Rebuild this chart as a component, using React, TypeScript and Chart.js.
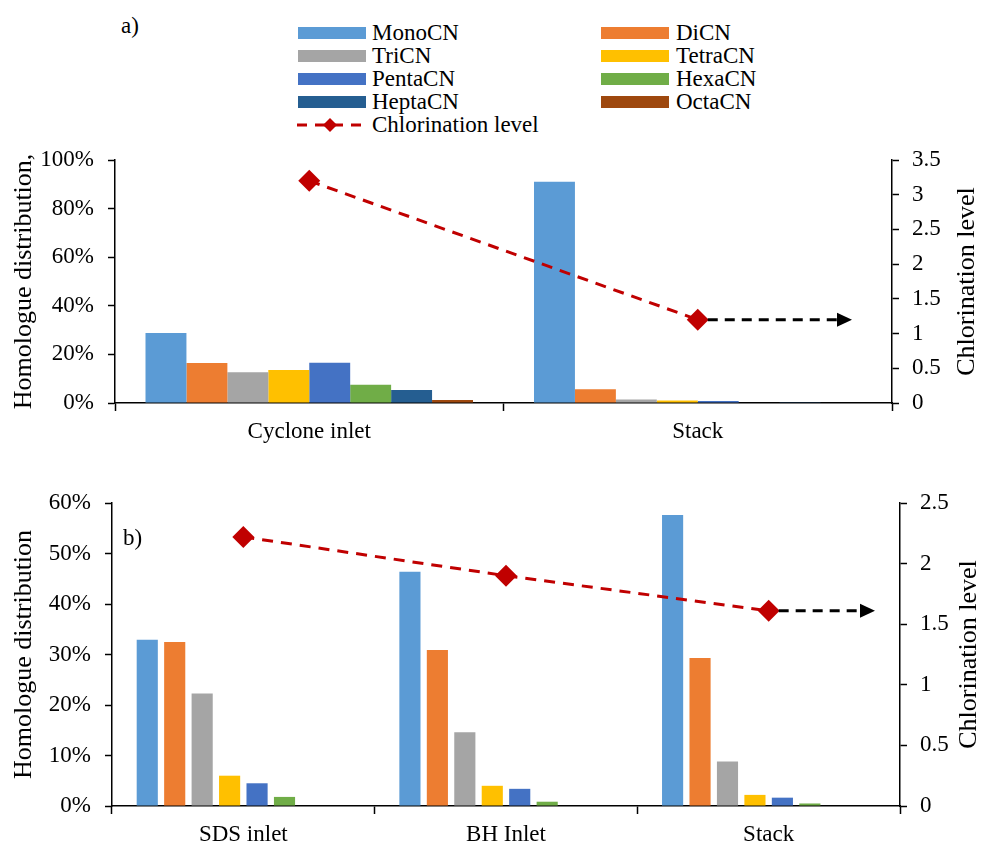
import React, { useEffect, useRef } from "react";
import { Chart, registerables } from "chart.js";
Chart.register(...registerables);

const FONT = '"Liberation Serif"';

const SERIES = ["MonoCN", "DiCN", "TriCN", "TetraCN", "PentaCN", "HexaCN", "HeptaCN", "OctaCN"];
const COLORS = ["#5B9BD5", "#ED7D31", "#A5A5A5", "#FFC000", "#4472C4", "#70AD47", "#255E91", "#9E480E"];
const LINE_LABEL = "Chlorination level";
const LINE_COLOR = "#C00000";

// Panel a)
const catsA = ["Cyclone inlet", "Stack"];
const monoA = [0.288, 0.91];
const diA = [0.165, 0.057];
const triA = [0.127, 0.014];
const tetraA = [0.136, 0.01];
const pentaA = [0.166, 0.008];
const hexaA = [0.075, 0.002];
const heptaA = [0.053, 0.001];
const octaA = [0.012, 0];
const chlA = [3.2, 1.2];

// Panel b)
const catsB = ["SDS inlet", "BH Inlet", "Stack"];
const monoB = [0.329, 0.464, 0.576];
const diB = [0.325, 0.309, 0.293];
const triB = [0.223, 0.146, 0.088];
const tetraB = [0.06, 0.04, 0.022];
const pentaB = [0.045, 0.034, 0.0165];
const hexaB = [0.018, 0.0085, 0.005];
const heptaB = [0, 0, 0];
const octaB = [0, 0, 0];
const chlB = [2.22, 1.9, 1.61];

type PanelOpts = {
  cats: string[];
  bars: number[][];
  chl: number[];
  yMax: number;
  yStep: number;
  y1Max: number;
  leftTitle: string;
  catPct: number;
  barPct: number;
  leftW: number;
  rightW: number;
  xH: number;
  padTop: number;
  arrowGap: number;
  rightTitleOff: number;
};

function makeConfig(o: PanelOpts): any {
  const datasets: any[] = o.bars.map((d, i) => ({
    type: "bar",
    label: SERIES[i],
    data: d,
    backgroundColor: COLORS[i],
    borderWidth: 0,
    yAxisID: "y",
    order: 2,
    categoryPercentage: o.catPct,
    barPercentage: o.barPct,
  }));
  datasets.push({
    type: "line",
    label: LINE_LABEL,
    data: o.chl,
    borderColor: LINE_COLOR,
    backgroundColor: LINE_COLOR,
    borderWidth: 3,
    borderDash: [11, 8],
    pointStyle: "rectRot",
    pointRadius: 11,
    pointBorderWidth: 0,
    pointBackgroundColor: LINE_COLOR,
    yAxisID: "y1",
    order: 0,
    fill: false,
    tension: 0,
  });
  const lineIndex = datasets.length - 1;

  const extras = {
    id: "extras",
    afterDatasetsDraw(chart: any) {
      const ctx = chart.ctx;
      const meta = chart.getDatasetMeta(lineIndex);
      const pt = meta.data[meta.data.length - 1];
      const x0 = pt.x;
      const y = pt.y;
      const x1 = chart.chartArea.right - o.arrowGap;
      ctx.save();
      ctx.strokeStyle = "#000";
      ctx.fillStyle = "#000";
      ctx.lineWidth = 3;
      ctx.setLineDash([10, 7]);
      ctx.beginPath();
      ctx.moveTo(x0 + 10, y);
      ctx.lineTo(x1 - 15, y);
      ctx.stroke();
      ctx.setLineDash([]);
      ctx.beginPath();
      ctx.moveTo(x1, y);
      ctx.lineTo(x1 - 15, y - 7);
      ctx.lineTo(x1 - 15, y + 7);
      ctx.closePath();
      ctx.fill();
      ctx.restore();
    },
    afterDraw(chart: any) {
      const ctx = chart.ctx;
      const a = chart.chartArea;
      ctx.save();
      ctx.translate(chart.width - o.rightTitleOff, (a.top + a.bottom) / 2);
      ctx.rotate(-Math.PI / 2);
      ctx.font = `26px ${FONT}`;
      ctx.fillStyle = "#000";
      ctx.textAlign = "center";
      ctx.textBaseline = "middle";
      ctx.fillText(LINE_LABEL, 0, 0);
      ctx.restore();
    },
  };

  const tickFont = { family: FONT, size: 23 };
  return {
    type: "bar",
    data: { labels: o.cats, datasets },
    plugins: [extras],
    options: {
      responsive: false,
      animation: false,
      devicePixelRatio: 1,
      layout: { padding: { top: o.padTop, left: 0, right: 0, bottom: 0 } },
      plugins: { legend: { display: false }, tooltip: { enabled: false } },
      scales: {
        x: {
          type: "category",
          offset: true,
          grid: {
            display: true,
            offset: true,
            drawOnChartArea: false,
            drawTicks: true,
            tickLength: 8,
            tickWidth: 1.5,
            tickColor: "#000",
          },
          border: { display: true, color: "#000", width: 1.5 },
          ticks: { font: tickFont, color: "#000", padding: 7, maxRotation: 0 },
          afterFit: (s: any) => {
            s.height = o.xH;
          },
        },
        y: {
          position: "left",
          min: 0,
          max: o.yMax,
          ticks: {
            stepSize: o.yStep,
            font: tickFont,
            color: "#000",
            padding: 14,
            callback: (v: any) => Math.round(Number(v) * 100) + "%",
          },
          grid: {
            drawOnChartArea: false,
            drawTicks: true,
            tickLength: 7,
            tickWidth: 1.5,
            tickColor: "#000",
          },
          border: { display: true, color: "#000", width: 1.5 },
          title: {
            display: true,
            text: o.leftTitle,
            font: { family: FONT, size: 26 },
            color: "#000",
            padding: { top: 9, bottom: 0 },
          },
          afterFit: (s: any) => {
            s.width = o.leftW;
          },
        },
        y1: {
          position: "right",
          min: 0,
          max: o.y1Max,
          ticks: {
            stepSize: 0.5,
            font: tickFont,
            color: "#000",
            padding: 13,
            callback: (v: any) => String(Math.round(Number(v) * 10) / 10),
          },
          grid: {
            drawOnChartArea: false,
            drawTicks: true,
            tickLength: 7,
            tickWidth: 1.5,
            tickColor: "#000",
          },
          border: { display: true, color: "#000", width: 1.5 },
          afterFit: (s: any) => {
            s.width = o.rightW;
          },
        },
      },
    },
  };
}

function Panel({ opts, top, height }: { opts: PanelOpts; top: number; height: number }) {
  const ref = useRef<HTMLCanvasElement | null>(null);
  useEffect(() => {
    if (!ref.current) return;
    Chart.defaults.font.family = FONT;
    const chart = new Chart(ref.current, makeConfig(opts));
    return () => {
      chart.destroy();
    };
  }, []);
  return (
    <canvas
      ref={ref}
      width={982}
      height={height}
      style={{ position: "absolute", left: 0, top, width: 982, height, display: "block" }}
    />
  );
}

const legendRows = [33, 56, 79, 102];
const legendCols = [
  { box: 298, text: 372 },
  { box: 601, text: 676 },
];

const textStyle = { fontFamily: FONT, fontSize: 23, lineHeight: "28px", color: "#000", whiteSpace: "nowrap" as const };

function Legend() {
  const items: any[] = [];
  SERIES.forEach((name, i) => {
    const row = Math.floor(i / 2);
    const col = legendCols[i % 2];
    const cy = legendRows[row];
    items.push(
      <div key={"b" + i} style={{ position: "absolute", left: col.box, top: cy - 6, width: 68, height: 12, background: COLORS[i] }} />
    );
    items.push(
      <div key={"t" + i} style={{ position: "absolute", left: col.text, top: cy - 14, ...textStyle }}>
        {name}
      </div>
    );
  });
  const cy = 125;
  items.push(
    <svg key="ls" width={70} height={20} style={{ position: "absolute", left: 296, top: cy - 10 }}>
      <line x1={1} y1={10} x2={69} y2={10} stroke={LINE_COLOR} strokeWidth={3} strokeDasharray="10 8" />
      <polygon points="27,10 34,3 41,10 34,17" fill={LINE_COLOR} />
    </svg>
  );
  items.push(
    <div key="lt" style={{ position: "absolute", left: 372, top: cy - 14, ...textStyle }}>
      {LINE_LABEL}
    </div>
  );
  return <>{items}</>;
}

const panelA: PanelOpts = {
  cats: catsA,
  bars: [monoA, diA, triA, tetraA, pentaA, hexaA, heptaA, octaA],
  chl: chlA,
  yMax: 1,
  yStep: 0.2,
  y1Max: 3.5,
  leftTitle: "Homologue distribution,",
  catPct: 0.843,
  barPct: 1,
  leftW: 115,
  rightW: 90,
  xH: 42,
  padTop: 30,
  arrowGap: 40,
  rightTitleOff: 15,
};

const panelB: PanelOpts = {
  cats: catsB,
  bars: [monoB, diB, triB, tetraB, pentaB, hexaB, heptaB, octaB],
  chl: chlB,
  yMax: 0.6,
  yStep: 0.1,
  y1Max: 2.5,
  leftTitle: "Homologue distribution",
  catPct: 0.836,
  barPct: 0.77,
  leftW: 112,
  rightW: 82,
  xH: 39,
  padTop: 33,
  arrowGap: 25,
  rightTitleOff: 13,
};

export default function App() {
  return (
    <div style={{ position: "absolute", left: 0, top: 0, width: 982, height: 845, background: "#fff", overflow: "hidden" }}>
      <Legend />
      <div style={{ position: "absolute", left: 121, top: 12, ...textStyle }}>a)</div>
      <Panel opts={panelA} top={130} height={315} />
      <Panel opts={panelB} top={470} height={375} />
      <div style={{ position: "absolute", left: 123, top: 524, ...textStyle }}>b)</div>
    </div>
  );
}
